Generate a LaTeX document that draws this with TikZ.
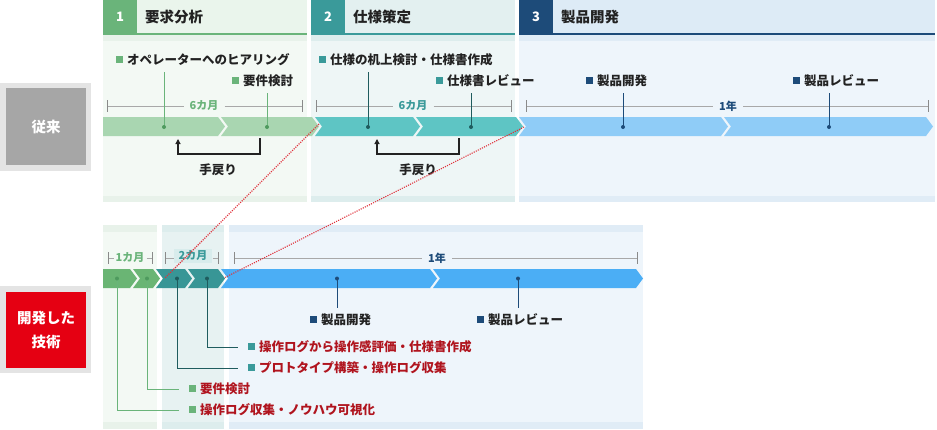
\documentclass[tikz,border=0pt]{standalone}
\usepackage{fontspec}
\setmainfont{Noto Sans CJK JP}
\usetikzlibrary{arrows.meta,calc}
\definecolor{gA}{HTML}{6AB47A}
\definecolor{gAdot}{HTML}{4E9A5E}
\definecolor{gAbar}{HTML}{A9D6B1}
\definecolor{gAhead}{HTML}{EAF5EC}
\definecolor{gAbody}{HTML}{F3F9F4}
\definecolor{gAstrip}{HTML}{E8F2EA}
\definecolor{tB}{HTML}{3A9A9A}
\definecolor{tBline}{HTML}{1F5C5E}
\definecolor{tBbar}{HTML}{5EC5C4}
\definecolor{tBhead}{HTML}{E3F0F0}
\definecolor{tBbody}{HTML}{EEF6F6}
\definecolor{tBbodyB}{HTML}{E7F2F2}
\definecolor{tBstrip}{HTML}{DDEDED}
\definecolor{nC}{HTML}{1D4B79}
\definecolor{nCbar}{HTML}{8FCCF7}
\definecolor{nChead}{HTML}{DDEBF6}
\definecolor{nCbody}{HTML}{EEF5FB}
\definecolor{nCstrip}{HTML}{E0ECF6}
\definecolor{gBot}{HTML}{6AB574}
\definecolor{tBot}{HTML}{389696}
\definecolor{bBot}{HTML}{4BAEF5}
\definecolor{txtred}{HTML}{B0141E}
\definecolor{txtdark}{HTML}{222222}
\definecolor{dotred}{HTML}{E0303A}
\definecolor{graybox}{HTML}{A6A6A6}
\definecolor{grayrim}{HTML}{E4E4E4}
\definecolor{redbox}{HTML}{E50012}
\definecolor{dimgray}{HTML}{8A8A8A}
\definecolor{dotgray}{HTML}{A8A8A8}
\definecolor{twobox}{HTML}{D8ECEC}
\newcommand{\sqm}[1]{\textcolor{#1}{\rule[1.3pt]{7pt}{7pt}}\hspace{4pt}}
\newcommand{\chevseg}[7]{\fill[#1] (#2,#4) -- (#3,#4) -- ({#3+7},#5) -- (#3,#6) -- (#2,#6) -- ({#2+#7},#5) -- cycle;}
\tikzset{
  lab/.style={font=\fontsize{12.5}{14}\selectfont\bfseries, inner sep=0pt, outer ysep=6pt,
    text height=11pt, text depth=1.5pt, anchor=west, text=txtdark},
  redlab/.style={lab, text=txtred},
  headnum/.style={font=\fontsize{13}{14}\selectfont\bfseries, text=white, inner sep=0pt},
  headtxt/.style={font=\fontsize{14.5}{16}\selectfont\bfseries, text=txtdark, inner sep=0pt, anchor=west},
  dimtxt/.style={font=\fontsize{11}{12}\selectfont\bfseries, inner xsep=6pt, inner ysep=1pt},
  dimline/.style={dotgray, line width=0.7pt, dash pattern=on 0.5pt off 0.5pt},
  ticks/.style={dimgray, line width=0.8pt},
  conn/.style={line width=0.9pt},
  ret/.style={line width=1.1pt, txtdark, -{Triangle[length=5pt,width=5pt]}},
  redline/.style={dotred, line width=1.1pt, dash pattern=on 1.1pt off 1.2pt},
  bigtxt/.style={font=\fontsize{14.5}{24}\selectfont\bfseries, text=white, align=center}
}
\begin{document}
\begin{tikzpicture}[x=1pt,y=-1pt]
\fill[white] (0,0) rectangle (937,429);
\useasboundingbox (0,0) rectangle (937,429);

% ===== top columns =====
% phase 1
\fill[gAbody] (103,35) rectangle (307,202);
\fill[gAstrip] (103,35) rectangle (307,41);
\fill[gAstrip] (103,196) rectangle (307,202);
\fill[gAhead] (103,0) rectangle (307,33);
\fill[gA] (103,32.5) rectangle (307,34.5);
\fill[gA] (103,0) rectangle (137,34);
% phase 2
\fill[tBbody] (311,35) rectangle (515,202);
\fill[tBstrip] (311,35) rectangle (515,41);
\fill[tBstrip] (311,196) rectangle (515,202);
\fill[tBhead] (311,0) rectangle (515,33);
\fill[tB] (311,32.5) rectangle (515,34.5);
\fill[tB] (311,0) rectangle (345,34);
% phase 3
\fill[nCbody] (519,35) rectangle (935,202);
\fill[nCstrip] (519,35) rectangle (935,41);
\fill[nCstrip] (519,196) rectangle (935,202);
\fill[nChead] (519,0) rectangle (935,33);
\fill[nC] (519,32.5) rectangle (935,34.5);
\fill[nC] (519,0) rectangle (553,34);

\node[headnum] (n1) at (120,17) {1};
\node[headtxt] (h1) at (145,17) {要求分析};
\node[headnum] (n2) at (328,17) {2};
\node[headtxt] (h2) at (353,17) {仕様策定};
\node[headnum] (n3) at (536,17) {3};
\node[headtxt] (h3) at (561,17) {製品開発};

% ===== bottom columns =====
\fill[gAbody] (103,225) rectangle (157,429);
\fill[gAstrip] (103,225) rectangle (157,232);
\fill[gAstrip] (103,422) rectangle (157,429);
\fill[tBbodyB] (162,225) rectangle (224,429);
\fill[tBstrip] (162,225) rectangle (224,232);
\fill[tBstrip] (162,422) rectangle (224,429);
\fill[nCbody] (229,225) rectangle (643,429);
\fill[nCstrip] (229,225) rectangle (643,232);
\fill[nCstrip] (229,422) rectangle (643,429);

% ===== side boxes =====
\fill[grayrim] (0,83) rectangle (91,171);
\fill[graybox] (6,88) rectangle (86,165);
\node[bigtxt] (jr) at (46,127) {従来};
\fill[grayrim] (0,286) rectangle (91,373);
\fill[redbox] (6,292) rectangle (86,368);
\node[bigtxt] (kg) at (46,330) {開発した\\技術};

% ===== top bar =====
\chevseg{gAbar}{103}{218}{117}{126.5}{136}{0}
\chevseg{gAbar}{221}{312}{117}{126.5}{136}{7}
\chevseg{tBbar}{315}{413}{117}{126.5}{136}{7}
\chevseg{tBbar}{416}{516}{117}{126.5}{136}{7}
\chevseg{nCbar}{519}{721}{117}{126.5}{136}{7}
\chevseg{nCbar}{724}{926}{117}{126.5}{136}{7}

% top dimension lines
\coordinate (ta1) at (107,106); \coordinate (tb1) at (302,106);
\coordinate (ta2) at (316,106); \coordinate (tb2) at (511,106);
\coordinate (ta3) at (526,106); \coordinate (tb3) at (928,106);
\node[dimtxt, text=gA] (d1) at (204,106) {6カ月};
\node[dimtxt, text=tB] (d2) at (413,106) {6カ月};
\node[dimtxt, text=nC] (d3) at (728,106) {1年};
\foreach \a/\b/\d in {ta1/tb1/d1, ta2/tb2/d2, ta3/tb3/d3} {
  \draw[dimline] (\a) -- (\d.west);
  \draw[dimline] (\d.east) -- (\b);
  \draw[ticks] ($(\a)+(0,-6)$) -- ($(\a)+(0,6)$);
  \draw[ticks] ($(\b)+(0,-6)$) -- ($(\b)+(0,6)$);
}

% top labels
\node[lab] (l1) at (116,60) {\sqm{gA}オペレーターへのヒアリング};
\node[lab] (l2) at (232,81) {\sqm{gA}要件検討};
\node[lab] (l3) at (319,60) {\sqm{tB}仕様の机上検討・仕様書作成};
\node[lab] (l4) at (436,81) {\sqm{tB}仕様書レビュー};
\node[lab] (l5) at (586,81) {\sqm{nC}製品開発};
\node[lab] (l6) at (793,81) {\sqm{nC}製品レビュー};

\coordinate (p1) at (164,127);
\coordinate (p2) at (267,127);
\coordinate (p3) at (368,127);
\coordinate (p4) at (471,127);
\coordinate (p5) at (623,127);
\coordinate (p6) at (829,127);
\draw[conn, gA] (p1 |- l1.south) -- (p1);
\draw[conn, gA] (p2 |- l2.south) -- (p2);
\draw[conn, tBline] (p3 |- l3.south) -- (p3);
\draw[conn, tBline] (p4 |- l4.south) -- (p4);
\draw[conn, nC] (p5 |- l5.south) -- (p5);
\draw[conn, nC] (p6 |- l6.south) -- (p6);
\fill[gAdot] (p1) circle (2); \fill[gAdot] (p2) circle (2);
\fill[tBline] (p3) circle (2); \fill[tBline] (p4) circle (2);
\fill[nC] (p5) circle (2); \fill[nC] (p6) circle (2);

% return arrows
\coordinate (ra1) at (260,138); \coordinate (rb1) at (178,139);
\coordinate (ra2) at (459,138); \coordinate (rb2) at (377,139);
\draw[ret] (ra1) -- ++(0,16) -| (rb1);
\draw[ret] (ra2) -- ++(0,16) -| (rb2);
\node[font=\fontsize{12.5}{14}\selectfont\bfseries, text=txtdark] (m1) at (218,170) {手戻り};
\node[font=\fontsize{12.5}{14}\selectfont\bfseries, text=txtdark] (m2) at (418,170) {手戻り};

% ===== bottom bar =====
\chevseg{gBot}{103}{130}{269}{278.5}{288}{0}
\chevseg{gBot}{133}{153}{269}{278.5}{288}{7}
\chevseg{tBot}{156}{185}{269}{278.5}{288}{7}
\chevseg{tBot}{188}{218}{269}{278.5}{288}{7}
\chevseg{bBot}{221}{430}{269}{278.5}{288}{7}
\chevseg{bBot}{433}{636}{269}{278.5}{288}{7}

% bottom dimension lines
\coordinate (ua1) at (108,258); \coordinate (ub1) at (152,258);
\coordinate (ua2) at (165,258); \coordinate (ub2) at (218,258);
\coordinate (ua3) at (234,258); \coordinate (ub3) at (637,258);
\node[dimtxt, text=gA, inner xsep=2pt] (e1) at (130,258) {1カ月};
\node[dimtxt, text=tB, fill=twobox, inner xsep=5pt, inner ysep=2pt] (e2) at (193,256) {2カ月};
\node[dimtxt, text=nC] (e3) at (437,258) {1年};
\draw[dimline] (ua1) -- (e1.west); \draw[dimline] (e1.east) -- (ub1);
\draw[dimline] (ua2) -- (e2.west |- ua2); \draw[dimline] (e2.east |- ub2) -- (ub2);
\draw[dimline] (ua3) -- (e3.west); \draw[dimline] (e3.east) -- (ub3);
\foreach \c in {ua1,ub1,ua2,ub2,ua3,ub3} {
  \draw[ticks] ($(\c)+(0,-6)$) -- ($(\c)+(0,6)$);
}

% bottom labels
\node[lab] (b5) at (310,320) {\sqm{nC}製品開発};
\node[lab] (b6) at (477,320) {\sqm{nC}製品レビュー};
\node[redlab] (b4) at (248,347) {\sqm{tB}操作ログから操作感評価・仕様書作成};
\node[redlab] (b3) at (248,368) {\sqm{tB}プロトタイプ構築・操作ログ収集};
\node[redlab] (b2) at (189,389) {\sqm{gA}要件検討};
\node[redlab] (b1) at (189,410) {\sqm{gA}操作ログ収集・ノウハウ可視化};

\coordinate (q1) at (117,278.5);
\coordinate (q2) at (147,278.5);
\coordinate (q3) at (177,278.5);
\coordinate (q4) at (207,278.5);
\coordinate (q5) at (337,278.5);
\coordinate (q6) at (518,278.5);
\draw[conn, gA] (q1) |- ($(b1.west)+(-10,0)$);
\draw[conn, gA] (q2) |- ($(b2.west)+(-10,0)$);
\draw[conn, tBline] (q3) |- ($(b3.west)+(-10,0)$);
\draw[conn, tBline] (q4) |- ($(b4.west)+(-10,0)$);
\draw[conn, nC] (q5) -- (q5 |- b5.north);
\draw[conn, nC] (q6) -- (q6 |- b6.north);
\fill[gAdot] (q1) circle (2); \fill[gAdot] (q2) circle (2);
\fill[tBline] (q3) circle (2); \fill[tBline] (q4) circle (2);
\fill[nC] (q5) circle (2); \fill[nC] (q6) circle (2);

% red dotted links
\coordinate (s1) at (319,124); \coordinate (f1) at (165,278);
\coordinate (s2) at (524,127); \coordinate (f2) at (224,278);
\draw[redline] (s1) -- (f1);
\draw[redline] (s2) -- (f2);
\end{tikzpicture}
\end{document}
